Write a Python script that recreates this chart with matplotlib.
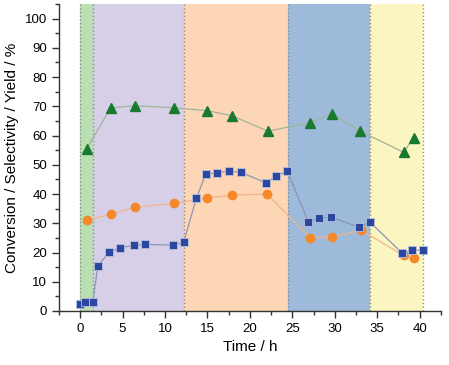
import numpy as np
import matplotlib
matplotlib.use("Agg")
import matplotlib.pyplot as plt

plt.rcParams['font.family'] = ['Liberation Sans', 'DejaVu Sans']

# conversion (blue squares)
t_conv = [0.05, 0.6, 1.5, 2.1, 3.4, 4.7, 6.3, 7.7, 11.0, 12.2, 13.7,
          14.8, 16.1, 17.6, 18.9, 21.9, 23.1, 24.4,
          26.9, 28.2, 29.6, 32.9, 34.1,
          37.9, 39.1, 40.4]
conv = [2.4, 3.0, 3.0, 15.4, 20.1, 21.5, 22.5, 22.8, 22.5, 23.5, 38.6,
        46.8, 47.3, 47.8, 47.5, 43.8, 46.2, 47.8,
        30.5, 31.7, 32.1, 28.6, 30.5,
        19.9, 20.7, 20.9]

# selectivity (green triangles)
t_sel = [0.8, 3.6, 6.5, 11.1, 15.0, 17.9, 22.1, 27.1, 29.7, 33.0, 38.1, 39.3]
sel = [55.5, 69.5, 70.2, 69.5, 68.5, 66.8, 61.5, 64.4, 67.5, 61.5, 54.3, 59.3]

# yield (orange circles)
t_yld = [0.8, 3.6, 6.5, 11.1, 15.0, 17.9, 22.0, 27.1, 29.7, 33.1, 38.1, 39.3]
yld = [31.1, 33.1, 35.5, 36.8, 38.7, 39.6, 40.0, 25.1, 25.3, 27.6, 19.0, 18.0]

# time windows of the different conditions
edges = [0, 1.55, 12.2, 24.45, 34.1, 40.35]
zone_colors = ['#b9dfb3', '#d7cfe7', '#fdd6b5', '#9dbada', '#fbf6c1']

fig = plt.figure(figsize=(4.49, 3.65), dpi=100)
ax = fig.add_axes([0.131, 0.148, 0.851, 0.841])

for i in range(len(zone_colors)):
    ax.axvspan(edges[i], edges[i+1], color=zone_colors[i], lw=0, zorder=0)
for e in edges:
    ax.axvline(e, color='#8c8c8c', ls=':', lw=1.0, zorder=1)

ax.plot(t_sel, sel, '-', color='#9fb59c', lw=0.9, zorder=2)
ax.plot(t_sel, sel, '^', color='#187a30', ms=7, mec='#187a30', zorder=3)

ax.plot(t_yld, yld, '-', color='#f3b488', lw=0.9, zorder=2)
ax.plot(t_yld, yld, 'o', color='#f5892a', ms=6, mec='#f5892a', zorder=3)

ax.plot(t_conv, conv, '-', color='#8d94b8', lw=0.9, zorder=2)
ax.plot(t_conv, conv, 's', color='#2c47a0', ms=5.5, mec='#b8c0dc', mew=0.6, zorder=3)

ax.set_xlim(-2.5, 42.5)
ax.set_ylim(0, 105)
ax.set_xticks(np.arange(0, 41, 5))
ax.set_xticks(np.arange(-2.5, 43, 2.5), minor=True)
ax.set_yticks(np.arange(0, 101, 10))
ax.set_yticks(np.arange(0, 106, 5), minor=True)

ax.spines['top'].set_visible(False)
ax.spines['right'].set_visible(False)
for s in ['left', 'bottom']:
    ax.spines[s].set_color('#333333')
    ax.spines[s].set_linewidth(1.0)
ax.tick_params(which='major', length=5, width=1.0, colors='#333333', labelsize=9.5, labelcolor='black')
ax.tick_params(which='minor', length=3, width=1.0, colors='#333333')

ax.set_xlabel('Time / h', fontsize=11)
ax.set_ylabel('Conversion / Selectivity / Yield / %', fontsize=11)

fig.savefig('out.png', dpi=100)
